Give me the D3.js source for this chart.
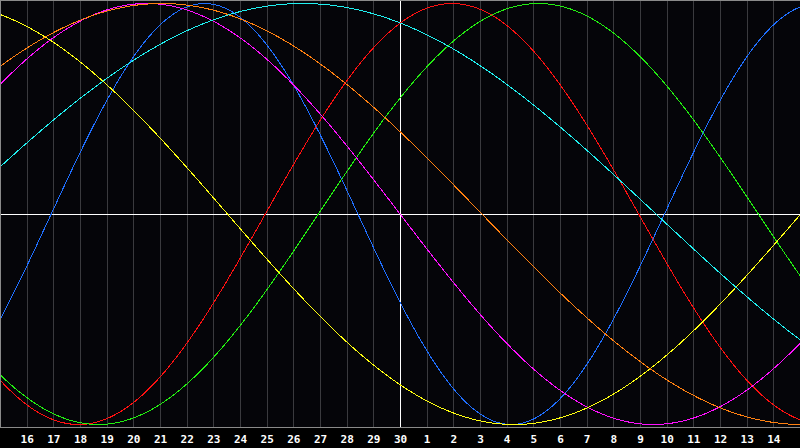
<!DOCTYPE html>
<html>
<head>
<meta charset="utf-8">
<script src="https://cdn.jsdelivr.net/npm/d3@7"></script>
<style>
  html, body { margin: 0; padding: 0; background: #000; }
  #chart { width: 800px; height: 448px; }
</style>
</head>
<body>
<div id="chart"></div>
<script>
// day labels along the bottom, one per grid line (day 30 sits in the middle)
const dayLabels = ["16","17","18","19","20","21","22","23","24","25","26","27","28","29","30",
                   "1","2","3","4","5","6","7","8","9","10","11","12","13","14"];

// biorhythm cycles: length in days and how far into its cycle each one is on day 30
const cycleNames   = ["Physical", "Emotional", "Intellectual", "Intuitive", "Aesthetic", "Awareness", "Spiritual"];
const cycleLengths = [23, 28, 33, 38, 43, 48, 53];
const cycleDayAtCenter = [13.08, 5.05, 3.06, 19.0, 27.97, 20.93, 16.9];

const colors = ["#1f6fff", "#ff1010", "#22ee10", "#ff10ff", "#ffff10", "#ff8010", "#20f0f0"];

const width = 800, height = 448;
const plotBottom = 427;

const svg = d3.select("#chart").append("svg")
    .attr("width", width)
    .attr("height", height)
    .style("display", "block");

svg.append("rect")
    .attr("width", width).attr("height", height)
    .attr("fill", "#000");

svg.append("rect")
    .attr("width", width).attr("height", plotBottom)
    .attr("fill", "#050509");

// x: day offset from the centre day, y: cycle value
const x = d3.scaleLinear().domain([-15, 15]).range([0, width]);
const y = d3.scaleLinear().domain([-1, 1]).range([424.5, 3.5]);

// day grid
const offsets = d3.range(-14, 15);
svg.append("g").selectAll("line")
    .data(offsets)
    .enter().append("line")
      .attr("x1", d => Math.round(x(d)) + 0.5)
      .attr("x2", d => Math.round(x(d)) + 0.5)
      .attr("y1", 0).attr("y2", plotBottom)
      .attr("stroke", d => d === 0 ? "#ffffff" : "#3a3a3e")
      .attr("stroke-width", 1)
      .attr("shape-rendering", "crispEdges");

// zero line
svg.append("line")
    .attr("x1", 0).attr("x2", width)
    .attr("y1", Math.round(y(0)) + 0.5).attr("y2", Math.round(y(0)) + 0.5)
    .attr("stroke", "#ffffff")
    .attr("shape-rendering", "crispEdges");

// curves
const samples = d3.range(-15, 15.001, 0.05);
const line = d3.line()
    .x(d => x(d[0]))
    .y(d => y(d[1]));

cycleLengths.forEach((len, i) => {
    const pts = samples.map(d => [d, Math.sin(2 * Math.PI * (cycleDayAtCenter[i] + d) / len)]);
    svg.append("path")
        .datum(pts)
        .attr("d", line)
        .attr("fill", "none")
        .attr("stroke", colors[i])
        .attr("stroke-width", 1)
        .attr("shape-rendering", "crispEdges")
        .append("title").text(cycleNames[i]);
});

// frame
svg.append("path")
    .attr("d", `M0.5,${plotBottom + 0.5} V0.5 H${width} M0,${plotBottom + 0.5} H${width}`)
    .attr("fill", "none")
    .attr("stroke", "#8a8a8a")
    .attr("shape-rendering", "crispEdges");

// day labels
svg.append("g").selectAll("text")
    .data(dayLabels)
    .enter().append("text")
      .attr("x", (d, i) => x(offsets[i]) + 0.5)
      .attr("y", 443)
      .attr("text-anchor", "middle")
      .attr("fill", "#ffffff")
      .style("font-family", "'DejaVu Sans Mono', monospace")
      .style("font-weight", "bold")
      .style("font-size", "11px")
      .text(d => d);
</script>
</body>
</html>
